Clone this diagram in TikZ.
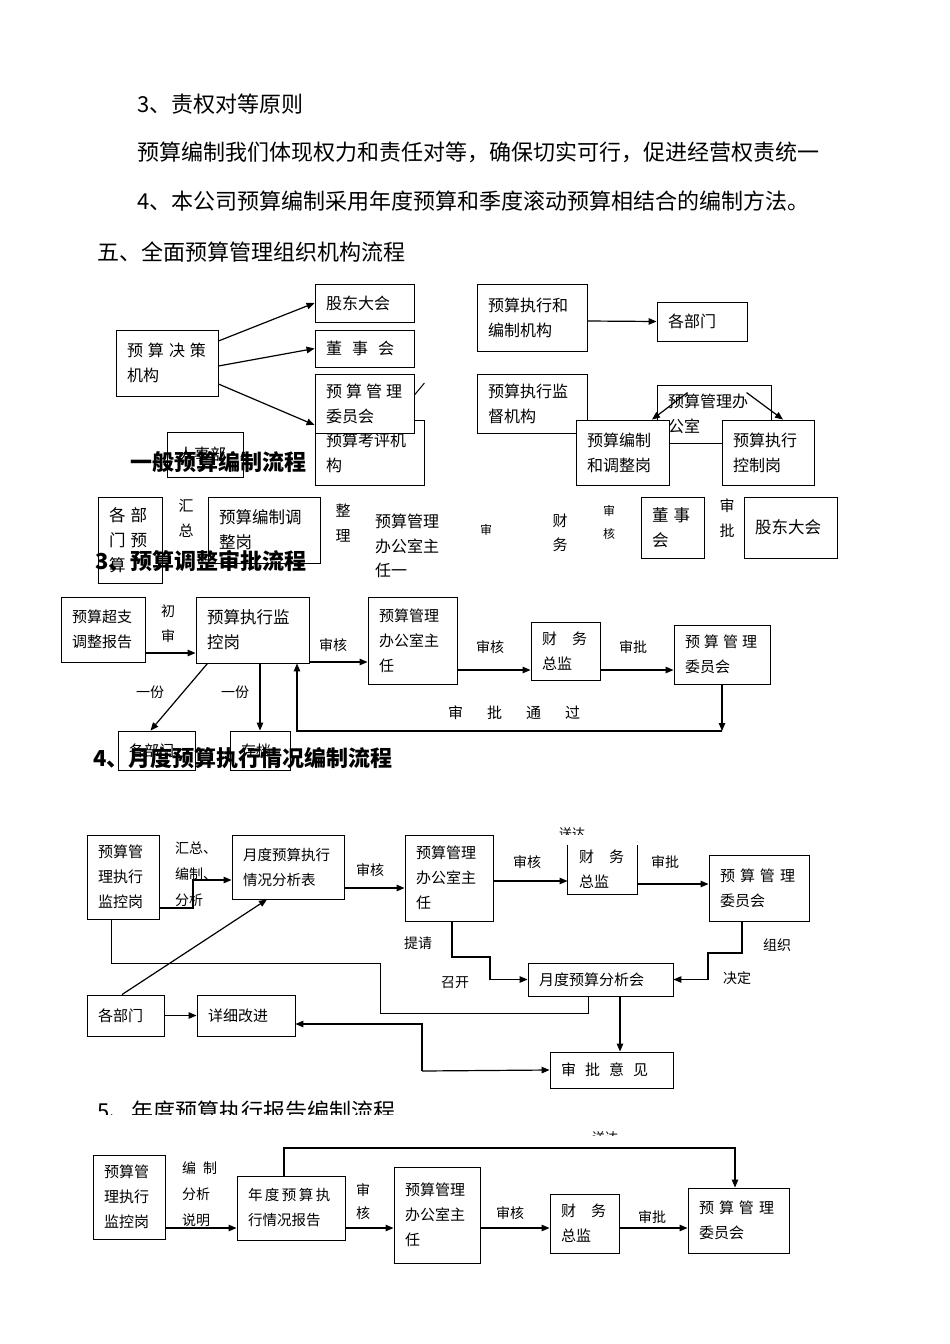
\documentclass[tikz,border=0pt]{standalone}
\usepackage{fontspec}
\setmainfont{Noto Sans CJK SC}
\usetikzlibrary{arrows.meta}
\newcommand{\cjkgap}{\hspace{5pt}}

\begin{document}
\begin{tikzpicture}[x=1pt, y=-1pt,
    box/.style={rectangle, draw, line width=0.9pt, fill=white, inner xsep=11pt, inner ysep=0pt, align=left, font=\fontsize{15}{25}\selectfont},
    orgbox/.style={box, font=\fontsize{16}{25}\selectfont},
    bigbox/.style={box, font=\fontsize{16.5}{25}\selectfont},
    lbl/.style={inner sep=0pt, align=center, font=\fontsize{14}{25}\selectfont},
    arr/.style={line width=1.2pt, -{Triangle[length=8pt,width=6.5pt]}},
    link/.style={line width=1pt},
    body/.style={anchor=west, inner sep=0pt, font=\fontsize{22}{26}\selectfont},
    head/.style={anchor=west, inner sep=0pt, font=\fontsize{22}{26}\selectfont\bfseries}
]
\path[fill=white, use as bounding box] (0,0) rectangle (950,1344);

% Text
\node[body] (t1) at (137,104) {3、责权对等原则};
\node[body] (t2) at (137,152) {预算编制我们体现权力和责任对等，确保切实可行，促进经营权责统一};
\node[body] (t3) at (137,201) {4、本公司预算编制采用年度预算和季度滚动预算相结合的编制方法。};
\node[body] (t4) at (97,252) {五、全面预算管理组织机构流程};

% Organisation
\node[orgbox, text width=80pt, minimum height=66] (jc) at (167,363) {预\cjkgap 算\cjkgap 决\cjkgap 策\\机构};
\node[orgbox, text width=77pt, minimum height=38] (gd) at (364.5,303) {股东大会};
\node[orgbox, text width=77pt, minimum height=37] (ds) at (364.5,348.5) {董\hspace{10pt}事\hspace{10pt}会};
\node[orgbox, text width=87pt, minimum height=65] (kp) at (369.5,452.5) {预算考评机\\构};
\node[orgbox, text width=77pt, minimum height=59] (wy) at (364.5,403.5) {预\hspace{4pt}算\hspace{4pt}管\hspace{4pt}理\\委员会};
\node[orgbox, text width=54pt, minimum height=45] (rs) at (205,454.5) {人事部};
\node[orgbox, text width=88pt, minimum height=67] (zx) at (532,317.5) {预算执行和\\编制机构};
\node[orgbox, text width=68pt, minimum height=39] (bm1) at (702,321.5) {各部门};
\node[orgbox, text width=88pt, minimum height=59] (jd) at (532,403.5) {预算执行监\\督机构};
\node[orgbox, text width=92pt, minimum height=58] (bgs) at (714,414) {预算管理办\\公室};
\node[orgbox, text width=71pt, minimum height=65] (bz) at (622.5,452.5) {预算编制\\和调整岗};
\node[orgbox, text width=70pt, minimum height=65] (kz) at (768,452.5) {预算执行\\控制岗};

\draw[arr] ([yshift=22pt]jc.east) -- (gd.west);
\draw[arr] ([yshift=-3pt]jc.east) -- (ds.west);
\draw[arr] ([yshift=-21pt]jc.east) -- ([yshift=-21.5pt]wy.west);
\draw[link] ([yshift=8.5pt]wy.east) -- ++(10,-12);
\draw[arr] ([yshift=-3.5pt]zx.east) -- (bm1.west);
\draw[arr] ([shift={(31,8)}]bgs.north west) -- ([xshift=29.5pt]bz.north);
\draw[arr] ([shift={(90,8)}]bgs.north west) -- ([xshift=15pt]kz.north);

\node[head] (h1) at (130,462) {一般预算编制流程};

% General budget flow
\node[bigbox, text width=42pt, minimum height=86] (bmys) at (130,540) {各\cjkgap 部\\门\cjkgap 预\\算};
\node[bigbox, text width=90pt, minimum height=66] (bztz) at (264,530) {预算编制调\\整岗};
\node[bigbox, text width=41pt, minimum height=61] (dsh) at (672.5,527.5) {董\cjkgap 事\\会};
\node[bigbox, text width=71pt, minimum height=61] (gdh) at (790.5,527.5) {股东大会};

\node[lbl, font=\fontsize{15}{25}\selectfont] (l21) at (186,518) {汇\\总};
\node[lbl, font=\fontsize{15}{25}\selectfont] (l22) at (343,523) {整\\理};
\node[lbl, align=left, font=\fontsize{16}{24.5}\selectfont] (l23) at (407,546) {预算管理\\办公室主\\任一};
\node[lbl, font=\fontsize{12}{23}\selectfont] (l24) at (486,530) {审};
\node[lbl, font=\fontsize{15}{24}\selectfont] (l25) at (560,533) {财\\务};
\node[lbl, font=\fontsize{12}{23}\selectfont] (l26) at (609,522) {审\\核};
\node[lbl, font=\fontsize{15}{25}\selectfont] (l27) at (727,518) {审\\批};

\node[head] (h2) at (95,561) {3、预算调整审批流程};

% Adjustment approval flow
\node[box, text width=62pt, minimum height=65] (cz) at (103,629.5) {预算超支\\调整报告};
\node[bigbox, text width=91pt, minimum height=66] (jk) at (252.5,630) {预算执行监\\控岗};
\node[box, text width=67pt, minimum height=87] (bz3) at (412.5,640.5) {预算管理\\办公室主\\任};
\node[box, text width=47pt, minimum height=58] (cw3) at (565.5,651) {财\quad 务\\总监};
\node[box, text width=74pt, minimum height=59] (wy3) at (722,654.5) {预\hspace{4pt}算\hspace{4pt}管\hspace{4pt}理\\委员会};
\node[box, text width=55pt, minimum height=39] (bm3) at (156.5,750.5) {各部门};
\node[box, text width=38pt, minimum height=39] (cd) at (260,750.5) {存档};

\coordinate (r3) at (0,670);
\coordinate (b3) at (297,731);
\draw[arr] ([yshift=-23.5pt]cz.east) -- ([yshift=-23pt]jk.west);
\draw[arr] ([yshift=-32pt]jk.east) -- ([yshift=-21.5pt]bz3.west);
\draw[arr] (bz3.east |- r3) -- (cw3.west |- r3);
\draw[arr] (cw3.east |- r3) -- (wy3.west |- r3);
\draw[arr] (wy3.south) -- (wy3.south |- b3);
\draw[arr] (wy3.south |- b3) -| (jk.south -| b3);
\draw[arr] ([xshift=-45pt]jk.south) -- ([xshift=-6pt]bm3.north);
\draw[arr] (jk.south -| cd.north) -- (cd.north);

\node[lbl] (l31) at (168,624) {初\\审};
\node[lbl] (l32) at (333,645) {审核};
\node[lbl] (l33) at (490,647) {审核};
\node[lbl] (l34) at (633,647) {审批};
\node[lbl] (l35) at (150,692) {一份};
\node[lbl] (l36) at (235,692) {一份};
\node[lbl, font=\fontsize{15}{25}\selectfont] (l37) at (514,713) {审\hspace{24pt}批\hspace{24pt}通\hspace{24pt}过};

\node[head] (h3) at (93,758) {4、月度预算执行情况编制流程};

% Monthly report flow
\node[box, text width=50pt, minimum height=84] (jk4) at (123,877) {预算管\\理执行\\监控岗};
\node[box, text width=90pt, minimum height=64, font=\fontsize{14.5}{25}\selectfont] (fxb) at (288,867) {月度预算执行\\情况分析表};
\node[box, text width=66pt, minimum height=86] (bz4) at (449,878) {预算管理\\办公室主\\任};
\node[box, draw=none, text width=47pt, minimum height=49] (cw4) at (602.5,869.5) {财\quad 务\\总监};
\draw[line width=0.9pt] (cw4.north west) |- (cw4.south east) -- (cw4.north east);
\node[box, text width=78pt, minimum height=66] (wy4) at (759,888) {预\cjkgap 算\cjkgap 管\cjkgap 理\\委员会};
\node[box, text width=123pt, minimum height=33] (fxh) at (600.5,979.5) {月度预算分析会};
\node[box, text width=55pt, minimum height=41] (bm4) at (125.5,1015.5) {各部门};
\node[box, text width=76pt, minimum height=41] (gj) at (246,1015.5) {详细改进};
\node[box, text width=101pt, minimum height=36] (yj) at (611.5,1070) {审\hspace{9pt}批\hspace{9pt}意\hspace{9pt}见};

\coordinate (k4) at (193,880);
\coordinate (z1) at (708,953);
\coordinate (z2) at (490,957);
\coordinate (z3) at (380,963);
\coordinate (z4) at (380,1013);
\coordinate (z6) at (422,1071);
\draw[arr] ([yshift=-31pt]jk4.east) -| (k4) -- (fxb.west |- k4);
\draw[arr] ([yshift=-21pt]fxb.east) -- ([yshift=-10pt]bz4.west);
\draw[arr] ([yshift=-3pt]bz4.east) -- ([yshift=-11.5pt]cw4.west);
\draw[arr] ([yshift=-14.5pt]cw4.east) -- ([yshift=4pt]wy4.west);
\draw[arr] ([xshift=-17pt]wy4.south) |- (z1) |- (fxh.east);
\draw[arr] ([xshift=3pt]bz4.south) |- (z2) |- (fxh.west);
\draw[link] ([xshift=-12pt]jk4.south) |- (z3) -- (z4) -| ([xshift=-12.5pt]fxh.south);
\draw[arr] ([xshift=-3.5pt]bm4.north) -- ([xshift=-21pt]fxb.south);
\draw[arr] (bm4.east) -- (gj.west);
\draw[arr] ([xshift=19.5pt]fxh.south) -- ([xshift=8.5pt]yj.north);
\draw[arr] (z6) |- ([yshift=-8.5pt]gj.east);
\draw[arr] (z6) -- (yj.west);

\node[lbl, anchor=west, align=left, font=\fontsize{14}{26}\selectfont] (l41) at (175,874) {汇总、\\编制、\\分析};
\node[lbl] (l42) at (370,870) {审核};
\node[lbl] (l43) at (527,862) {审核};
\node[lbl] (l44) at (665,862) {审批};
\node[lbl] (l45) at (777,945) {组织};
\node[lbl] (l46) at (737,978) {决定};
\node[lbl] (l47) at (418,943) {提请};
\node[lbl] (l48) at (455,983) {召开};
\begin{scope}
\clip (540,815) rectangle (620,834);
\node[lbl, font=\fontsize{13}{20}\selectfont] (l49) at (572,834) {送达};
\end{scope}

\begin{scope}
\clip (0,1090) rectangle (950,1114);
\node[body] (h4) at (97,1111) {5、年度预算执行报告编制流程};
\end{scope}

% Annual report flow
\node[box, text width=50pt, minimum height=84] (jk5) at (129,1197) {预算管\\理执行\\监控岗};
\node[box, text width=86pt, minimum height=64, font=\fontsize{14.5}{25}\selectfont] (bg) at (291,1208) {年\hspace{2.5pt}度\hspace{2.5pt}预\hspace{2.5pt}算\hspace{2.5pt}执\\行情况报告};
\node[box, text width=64pt, minimum height=96] (bz5) at (437,1215) {预算管理\\办公室主\\任};
\node[box, text width=47pt, minimum height=59] (cw5) at (584.5,1223.5) {财\quad 务\\总监};
\node[box, text width=79pt, minimum height=65] (wy5) at (738.5,1220.5) {预\cjkgap 算\cjkgap 管\cjkgap 理\\委员会};

\coordinate (t5) at (500,1148);
\draw[arr] ([yshift=-31pt]jk5.east) -- ([yshift=-20pt]bg.west);
\draw[arr] ([yshift=-20pt]bg.east) -- ([yshift=-13pt]bz5.west);
\draw[arr] ([yshift=-13pt]bz5.east) -- ([yshift=-4.5pt]cw5.west);
\draw[arr] ([yshift=-4.5pt]cw5.east) -- ([yshift=-7.5pt]wy5.west);
\draw[arr] ([xshift=-7pt]bg.north) |- (t5) -| ([xshift=-3.5pt]wy5.north);

\node[lbl, anchor=west, align=left, font=\fontsize{14}{26}\selectfont] (l51) at (182,1194) {编\hspace{7pt}制\\分析\\说明};
\node[lbl, font=\fontsize{14}{23}\selectfont] (l52) at (363,1202) {审\\核};
\node[lbl] (l53) at (510,1213) {审核};
\node[lbl] (l54) at (652,1217) {审批};
\begin{scope}
\clip (570,1120) rectangle (640,1135);
\node[lbl, font=\fontsize{13}{20}\selectfont] (l55) at (605,1138) {送达};
\end{scope}

\end{tikzpicture}
\end{document}
